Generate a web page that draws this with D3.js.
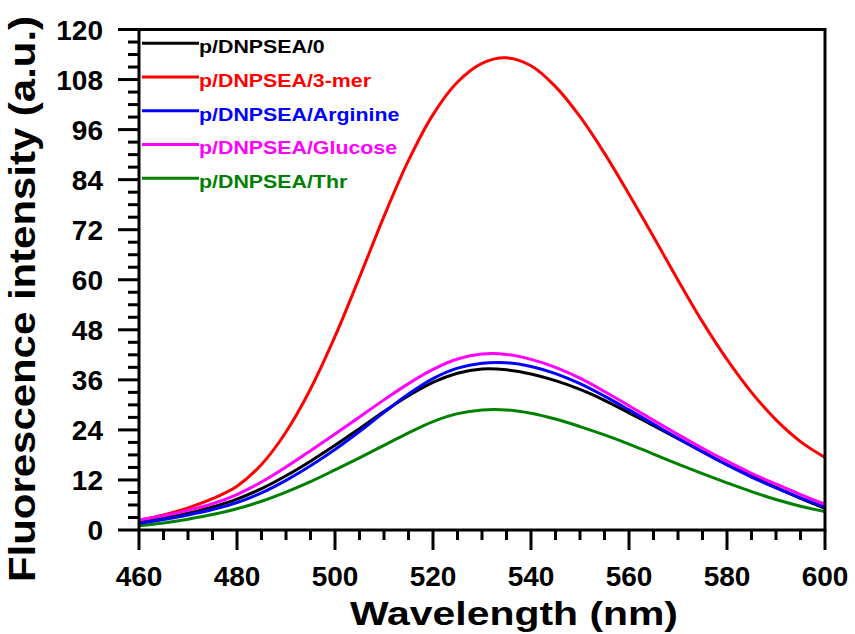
<!DOCTYPE html>
<html>
<head>
<meta charset="utf-8">
<script src="https://cdn.jsdelivr.net/npm/d3@7"></script>
<style>
  body { margin: 0; background: #fff; }
  text { font-family: "Liberation Sans", Arial, Helvetica, sans-serif; font-weight: bold; }
</style>
</head>
<body>
<svg id="chart" width="855" height="634"></svg>
<script>
// Emission wavelengths (nm)
const wavelengths = [460, 465, 470, 475, 480, 485, 490, 495, 500, 505, 510, 515, 520, 525, 530,
                     535, 540, 545, 550, 555, 560, 565, 570, 575, 580, 585, 590, 595, 600];

// Fluorescence intensity (a.u.) for each sample
const blank    = [1.9, 2.8, 4.0, 5.5, 7.4, 9.9, 13.0, 16.5, 20.3, 24.3, 28.4, 32.2, 35.4, 37.6, 38.6,
                  38.4, 37.4, 35.8, 33.7, 31.1, 28.1, 25.0, 21.9, 18.8, 15.7, 13.0, 10.2, 7.6, 5.2];
const mer3     = [2.3, 3.6, 5.3, 7.5, 10.5, 15.7, 23.5, 33.8, 46.4, 60.6, 75.2, 88.6, 99.6, 107.4, 111.9,
                  113.2, 111.3, 106.3, 99.1, 90.3, 80.5, 70.3, 59.9, 49.9, 40.9, 33.0, 26.4, 21.2, 17.4];
const arginine = [1.6, 2.5, 3.6, 4.9, 6.6, 8.9, 11.9, 15.4, 19.3, 23.6, 28.2, 32.6, 36.3, 38.8, 40.0,
                  40.1, 39.2, 37.5, 35.1, 32.1, 28.8, 25.4, 22.0, 18.7, 15.6, 12.7, 10.1, 7.7, 5.5];
const glucose  = [2.4, 3.4, 4.7, 6.3, 8.5, 11.5, 15.1, 19.0, 23.0, 27.1, 31.2, 35.1, 38.5, 41.0, 42.2,
                  42.1, 40.9, 39.0, 36.4, 33.2, 29.8, 26.3, 22.9, 19.6, 16.5, 13.6, 11.0, 8.5, 6.2];
const thr      = [1.0, 1.7, 2.6, 3.7, 5.1, 6.9, 9.1, 11.6, 14.4, 17.3, 20.3, 23.3, 26.0, 27.9, 28.8,
                  28.8, 28.0, 26.6, 24.8, 22.8, 20.6, 18.2, 15.8, 13.5, 11.3, 9.2, 7.3, 5.7, 4.4];

const seriesNames  = ["p/DNPSEA/0", "p/DNPSEA/3-mer", "p/DNPSEA/Arginine", "p/DNPSEA/Glucose", "p/DNPSEA/Thr"];
const seriesValues = [blank, mer3, arginine, glucose, thr];
const seriesColors = ["#000000", "#ff0000", "#0000ff", "#ff00ff", "#008000"];

// Axis ticks
const xMajorTicks = [460, 480, 500, 520, 540, 560, 580, 600];
const xMinorTicks = [465, 470, 475, 485, 490, 495, 505, 510, 515, 525, 530, 535, 545, 550, 555, 565, 570, 575, 585, 590, 595];
const yMajorTicks = [0, 12, 24, 36, 48, 60, 72, 84, 96, 108, 120];
const yMinorTicks = [3, 6, 9, 15, 18, 21, 27, 30, 33, 39, 42, 45, 51, 54, 57, 63, 66, 69, 75, 78, 81,
                     87, 90, 93, 99, 102, 105, 111, 114, 117];

const xTitle = "Wavelength (nm)";
const yTitle = "Fluorescence intensity (a.u.)";

const svg = d3.select("#chart");
const plotLeft = 139, plotRight = 825, plotTop = 29.5, plotBottom = 530;

const x = d3.scaleLinear().domain([460, 600]).range([plotLeft, plotRight]);
const y = d3.scaleLinear().domain([0, 120]).range([plotBottom, plotTop]);

// Spectra
const spectrumLine = d3.line()
  .x((d, i) => x(wavelengths[i]))
  .y(d => y(d))
  .curve(d3.curveCatmullRom.alpha(0.5));

const drawOrder = [4, 1, 0, 2, 3];
svg.append("g")
  .selectAll("path")
  .data(drawOrder)
  .join("path")
  .attr("d", k => spectrumLine(seriesValues[k]))
  .attr("fill", "none")
  .attr("stroke", k => seriesColors[k])
  .attr("stroke-width", 3)
  .attr("stroke-linejoin", "round");

// Outward tick marks, drawn as filled bars 3px thick
const ticks = svg.append("g").attr("fill", "#000");
const tw = 3;

ticks.selectAll("rect.xminor").data(xMinorTicks).join("rect").attr("class", "xminor")
  .attr("x", d => x(d) - tw / 2).attr("y", plotBottom).attr("width", tw).attr("height", 10);
ticks.selectAll("rect.xmajor").data(xMajorTicks).join("rect").attr("class", "xmajor")
  .attr("x", d => x(d) - tw / 2).attr("y", plotBottom).attr("width", tw).attr("height", 20);
ticks.selectAll("rect.yminor").data(yMinorTicks).join("rect").attr("class", "yminor")
  .attr("x", plotLeft - 11).attr("y", d => y(d) - tw / 2).attr("width", 11).attr("height", tw);
ticks.selectAll("rect.ymajor").data(yMajorTicks).join("rect").attr("class", "ymajor")
  .attr("x", plotLeft - 21).attr("y", d => y(d) - tw / 2).attr("width", 21).attr("height", tw);

// Frame: axis lines plus top and right borders
svg.append("rect")
  .attr("x", plotLeft).attr("y", plotTop)
  .attr("width", plotRight - plotLeft).attr("height", plotBottom - plotTop)
  .attr("fill", "none").attr("stroke", "#000").attr("stroke-width", 3);

// Tick labels
svg.append("g").selectAll("text").data(xMajorTicks).join("text")
  .attr("x", d => x(d)).attr("y", 586)
  .attr("text-anchor", "middle")
  .attr("font-size", 28)
  .attr("fill", "#000")
  .text(d => d);

svg.append("g").selectAll("text").data(yMajorTicks).join("text")
  .attr("x", 103).attr("y", d => y(d) + 10)
  .attr("text-anchor", "end")
  .attr("font-size", 28)
  .attr("fill", "#000")
  .text(d => d);

// Axis titles
svg.append("text")
  .attr("x", 514).attr("y", 625)
  .attr("text-anchor", "middle")
  .attr("font-size", 34)
  .attr("textLength", 328).attr("lengthAdjust", "spacingAndGlyphs")
  .attr("fill", "#000")
  .text(xTitle);

svg.append("text")
  .attr("transform", "translate(35,299) rotate(-90)")
  .attr("text-anchor", "middle")
  .attr("font-size", 37)
  .attr("textLength", 566).attr("lengthAdjust", "spacingAndGlyphs")
  .attr("fill", "#000")
  .text(yTitle);

// Legend
const legendRowY = d3.scaleLinear().domain([0, 4]).range([43.3, 178.3]);
const legend = svg.append("g");
const item = legend.selectAll("g").data(seriesNames).join("g")
  .attr("transform", (d, i) => `translate(0,${legendRowY(i)})`);
item.append("line")
  .attr("x1", 142).attr("x2", 199).attr("y1", 0).attr("y2", 0)
  .attr("stroke", (d, i) => seriesColors[i]).attr("stroke-width", 3);
item.append("text")
  .attr("transform", "translate(199,9.8) scale(1.22,1)")
  .attr("font-size", 17.5)
  .attr("fill", (d, i) => seriesColors[i])
  .text(d => d);
</script>
</body>
</html>
